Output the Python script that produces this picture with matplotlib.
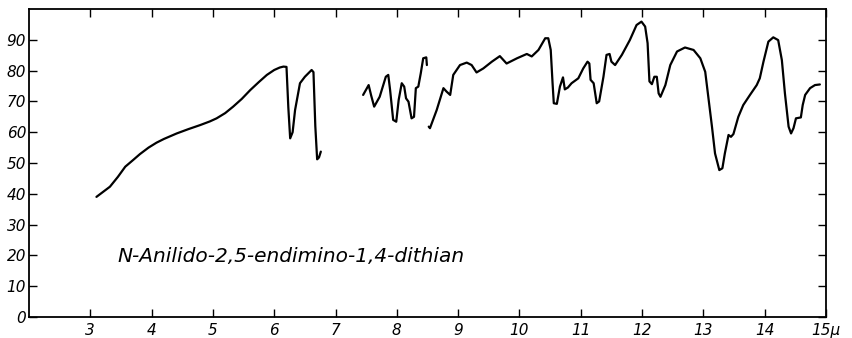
import matplotlib
matplotlib.use("Agg")
import matplotlib.pyplot as plt

# Segment 1 (3.1 - 6.8 micron)
wl1 = [3.10, 3.20, 3.32, 3.45, 3.57, 3.70, 3.81, 3.95, 4.08, 4.20, 4.41, 4.60, 4.79, 4.95,
       5.06, 5.20, 5.33, 5.47, 5.61, 5.75, 5.88, 6.00, 6.09, 6.15, 6.20,
       6.23, 6.26, 6.30, 6.34, 6.42, 6.50, 6.61, 6.64, 6.67, 6.70, 6.73, 6.76]
tr1 = [39.0, 40.5, 42.3, 45.5, 48.8, 51.0, 52.9, 55.0, 56.6, 57.8, 59.6, 61.0, 62.3, 63.5,
       64.5, 66.2, 68.3, 70.8, 73.7, 76.3, 78.6, 80.2, 81.0, 81.3, 81.2,
       68.0, 58.0, 60.0, 67.2, 75.9, 78.0, 80.2, 79.5, 62.0, 51.2, 51.8, 53.7]

# Segment 2 (7.45 - 8.5 micron)
wl2 = [7.45, 7.54, 7.58, 7.63, 7.72, 7.82, 7.86, 7.89, 7.94, 7.99, 8.03, 8.08, 8.12, 8.15,
       8.19, 8.24, 8.28, 8.31, 8.35, 8.39, 8.43, 8.48, 8.49]
tr2 = [72.1, 75.3, 72.0, 68.3, 71.5, 78.0, 78.6, 73.7, 64.0, 63.4, 70.5, 75.9, 74.8, 71.0,
       69.9, 64.5, 65.0, 74.3, 74.8, 79.1, 84.0, 84.3, 81.8]

# Segment 3 (8.52 - 14.9 micron)
wl3 = [8.52, 8.54, 8.65, 8.76, 8.81, 8.87, 8.92, 9.03, 9.14, 9.22, 9.30, 9.41, 9.55, 9.68,
       9.79, 9.96, 10.12, 10.20, 10.31, 10.42, 10.47, 10.51, 10.54, 10.56, 10.61, 10.66,
       10.71, 10.74, 10.79, 10.85, 10.96, 11.04, 11.11, 11.14, 11.16, 11.21, 11.26, 11.30,
       11.37, 11.42, 11.47, 11.50, 11.56, 11.67, 11.80, 11.91, 11.99, 12.05, 12.09, 12.12,
       12.16, 12.20, 12.24, 12.27, 12.30, 12.38, 12.46, 12.57, 12.70, 12.84, 12.95, 13.03,
       13.08, 13.14, 13.19, 13.26, 13.31, 13.35, 13.41, 13.45, 13.49, 13.57, 13.65, 13.76,
       13.87, 13.92, 13.98, 14.06, 14.14, 14.22, 14.28, 14.33, 14.39, 14.43, 14.47, 14.51,
       14.59, 14.62, 14.66, 14.74, 14.82, 14.90]
tr3 = [61.8, 61.3, 67.2, 74.3, 73.2, 72.1, 78.6, 81.8, 82.6, 81.8, 79.4, 80.7, 82.9, 84.7,
       82.3, 84.0, 85.4, 84.6, 86.7, 90.5, 90.5, 86.7, 75.9, 69.4, 69.2, 74.8,
       77.8, 73.9, 74.5, 75.9, 77.5, 80.7, 82.9, 82.3, 77.0, 75.9, 69.4, 70.0,
       78.0, 85.1, 85.4, 82.9, 81.8, 85.1, 89.9, 94.8, 95.9, 94.3, 88.9, 76.5,
       75.6, 78.0, 78.0, 72.6, 71.5, 75.3, 81.8, 86.2, 87.5, 86.7, 84.0, 79.6,
       71.5, 61.8, 53.1, 47.7, 48.3, 53.1, 59.1, 58.5, 59.4, 65.0, 68.8, 72.1,
       75.3, 77.5, 82.9, 89.4, 90.8, 89.9, 83.4, 72.6, 61.8, 59.6, 61.3, 64.5,
       64.8, 68.8, 72.1, 74.3, 75.3, 75.5]

x_ticks = [3, 4, 5, 6, 7, 8, 9, 10, 11, 12, 13, 14, 15]
x_labels = ["3", "4", "5", "6", "7", "8", "9", "10", "11", "12", "13", "14", "15\u03bc"]
y_ticks = [0, 10, 20, 30, 40, 50, 60, 70, 80, 90]
y_labels = ["0", "10", "20", "30", "40", "50", "60", "70", "80", "90"]
title = "N-Anilido-2,5-endimino-1,4-dithian"

fig = plt.figure(figsize=(8.52, 3.38), dpi=100)
ax = fig.add_axes([29 / 852, 21 / 338, (826 - 29) / 852, (317 - 9) / 338])

for wl, tr in [(wl1, tr1), (wl2, tr2), (wl3, tr3)]:
    ax.plot(wl, tr, color="black", lw=1.6, solid_joinstyle="round", solid_capstyle="round")

ax.set_xlim(2, 15)
ax.set_ylim(0, 100)
ax.set_xticks(x_ticks)
ax.set_xticklabels(x_labels, fontstyle="italic", fontsize=11)
ax.set_yticks(y_ticks)
ax.set_yticklabels(y_labels, fontstyle="italic", fontsize=11)
ax.tick_params(direction="in", length=6, width=1, top=True, right=True, pad=4)
ax.tick_params(axis="y", pad=2)
for s in ax.spines.values():
    s.set_linewidth(1.3)

ax.text(3.45, 19.5, title, fontstyle="italic", fontsize=14.5, va="center", ha="left")

fig.savefig("out.png", dpi=100)
